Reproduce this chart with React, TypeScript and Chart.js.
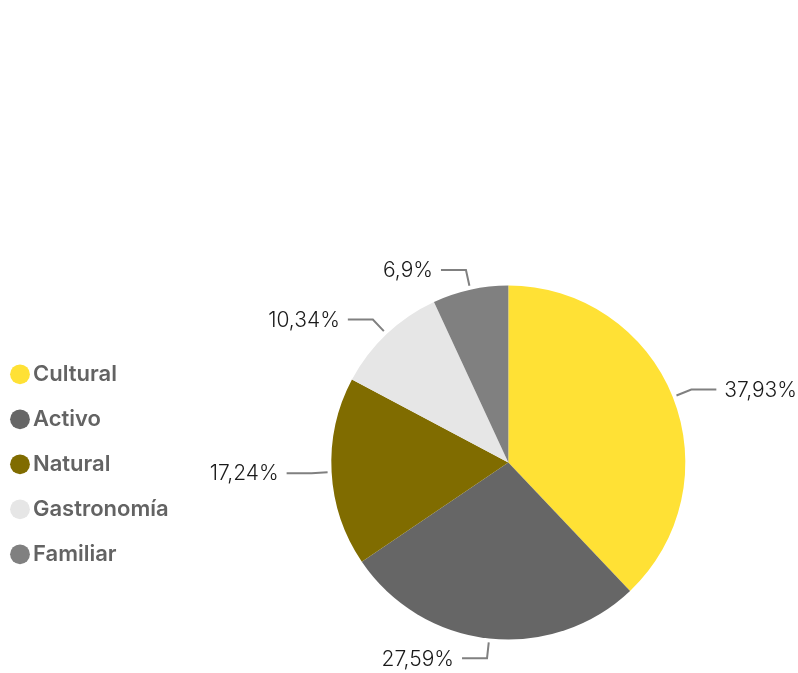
import React, { useEffect, useRef } from "react";
import { Chart, registerables } from "chart.js";

Chart.register(...registerables);

const categories = ["Cultural", "Activo", "Natural", "Gastronomía", "Familiar"];
const percentages = [37.93, 27.59, 17.24, 10.34, 6.9];
const sliceColors = ["#FFE135", "#666666", "#806C00", "#E6E6E6", "#808080"];

const FONT = "Inter, 'Noto Sans', sans-serif";

const outLabels = {
  id: "outLabels",
  afterDatasetsDraw(chart: any) {
    const ctx = chart.ctx;
    const meta = chart.getDatasetMeta(0);
    const values = chart.data.datasets[0].data as number[];
    ctx.save();
    meta.data.forEach((arc: any, i: number) => {
      const { x, y, startAngle, endAngle, outerRadius } = arc.getProps(
        ["x", "y", "startAngle", "endAngle", "outerRadius"],
        true
      );
      const mid = (startAngle + endAngle) / 2;
      const cx = Math.cos(mid);
      const cy = Math.sin(mid);
      const p1x = x + (outerRadius + 4) * cx;
      const p1y = y + (outerRadius + 4) * cy;
      const p2x = x + (outerRadius + 20) * cx;
      const p2y = y + (outerRadius + 20) * cy;
      const side = cx >= 0 ? 1 : -1;
      const p3x = p2x + side * 25;
      ctx.strokeStyle = "#808080";
      ctx.lineWidth = 2;
      ctx.beginPath();
      ctx.moveTo(p1x, p1y);
      ctx.lineTo(p2x, p2y);
      ctx.lineTo(p3x, p2y);
      ctx.stroke();
      ctx.fillStyle = "#1a1a1a";
      ctx.font = `300 21px ${FONT}`;
      ctx.textBaseline = "middle";
      ctx.textAlign = side > 0 ? "left" : "right";
      const txt = String(values[i]).replace(".", ",") + "%";
      ctx.fillText(txt, p3x + side * 8, p2y + 1);
    });
    ctx.restore();
  },
};

export default function App() {
  const ref = useRef<HTMLCanvasElement | null>(null);
  useEffect(() => {
    if (!ref.current) return;
    const chart = new Chart(ref.current, {
      type: "pie",
      data: {
        labels: categories,
        datasets: [
          {
            data: percentages,
            backgroundColor: sliceColors,
            borderWidth: 0,
            radius: 177,
          } as any,
        ],
      },
      options: {
        animation: false,
        responsive: true,
        maintainAspectRatio: false,
        layout: { padding: { top: 252, bottom: 0, left: -5, right: 0 } },
        plugins: {
          tooltip: { enabled: false },
          legend: {
            position: "left",
            title: { display: true, text: " ", padding: 0, font: { size: 3 } },
            labels: {
              usePointStyle: true,
              pointStyle: "circle",
              boxWidth: 4,
              boxHeight: 14,
              padding: 23,
              color: "#636363",
              font: { family: FONT, size: 22, weight: 600 as any },
            },
          },
        },
      },
      plugins: [outLabels],
    });
    return () => chart.destroy();
  }, []);
  return (
    <div style={{ position: "absolute", left: 0, top: 0, width: 798, height: 673, overflow: "hidden" }}>
      <div style={{ position: "absolute", left: 0, top: 0, width: 838, height: 673 }}>
        <canvas ref={ref} />
      </div>
    </div>
  );
}
